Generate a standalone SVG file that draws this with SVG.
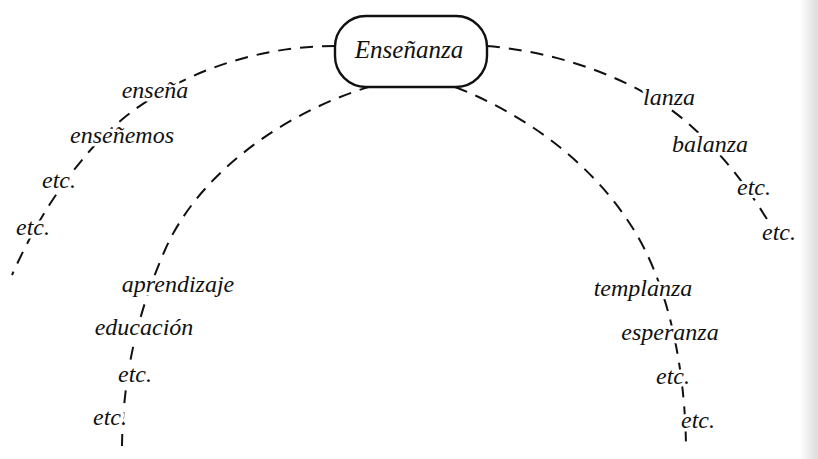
<svg xmlns="http://www.w3.org/2000/svg" width="818" height="459" viewBox="0 0 818 459">
  <style>
    .arc { fill: none; stroke: #111; stroke-width: 2; stroke-dasharray: 13 9; }
    .lbl { font-family: "Liberation Serif", "DejaVu Serif", serif; font-style: italic; font-size: 24px; fill: #111; text-anchor: middle; stroke: #fff; stroke-width: 7; paint-order: stroke; stroke-linejoin: round; }
    .main { font-family: "Liberation Serif", "DejaVu Serif", serif; font-style: italic; font-size: 25px; fill: #111; text-anchor: middle; }
    .box { fill: #fff; stroke: #111; stroke-width: 2.4; }
  </style>
  <defs>
    <linearGradient id="edge" x1="0" y1="0" x2="1" y2="0">
      <stop offset="0" stop-color="#ffffff"/>
      <stop offset="1" stop-color="#dcdcdc"/>
    </linearGradient>
  </defs>
  <rect width="818" height="459" fill="#fff"/>
  <rect x="800" y="0" width="18" height="459" fill="url(#edge)"/>

  <g id="connectors">
    <path class="arc" d="M335,46 C240,46 150,85 95,145 C55,189 30,235 12,275"/>
    <path class="arc" d="M487,46 C560,52 640,80 690,125 C730,161 752,195 770,224"/>
    <path class="arc" d="M372,86 C290,110 200,170 165,250 C140,307 123,370 122,446"/>
    <path class="arc" d="M455,87 C540,120 610,180 645,250 C670,300 685,370 686,446"/>
  </g>

  <g id="node-ensenanza">
    <rect class="box" x="335" y="16" width="152" height="71" rx="31" ry="31"/>
    <text class="main" x="409" y="58">Enseñanza</text>
  </g>

  <g id="node-ensena"><text class="lbl" x="155" y="98">enseña</text></g>
  <g id="node-ensenemos"><text class="lbl" x="122" y="143">enseñemos</text></g>
  <g id="node-etc-l1"><text class="lbl" x="59" y="188">etc.</text></g>
  <g id="node-etc-l2"><text class="lbl" x="33" y="235">etc.</text></g>

  <g id="node-lanza"><text class="lbl" x="669" y="105">lanza</text></g>
  <g id="node-balanza"><text class="lbl" x="710" y="152">balanza</text></g>
  <g id="node-etc-r1"><text class="lbl" x="754" y="195">etc.</text></g>
  <g id="node-etc-r2"><text class="lbl" x="779" y="240">etc.</text></g>

  <g id="node-aprendizaje"><text class="lbl" x="178" y="292">aprendizaje</text></g>
  <g id="node-educacion"><text class="lbl" x="144" y="335">educación</text></g>
  <g id="node-etc-il1"><text class="lbl" x="135" y="382">etc.</text></g>
  <g id="node-etc-il2"><text class="lbl" x="110" y="425">etc.</text></g>

  <g id="node-templanza"><text class="lbl" x="643" y="296">templanza</text></g>
  <g id="node-esperanza"><text class="lbl" x="670" y="340">esperanza</text></g>
  <g id="node-etc-ir1"><text class="lbl" x="673" y="384">etc.</text></g>
  <g id="node-etc-ir2"><text class="lbl" x="698" y="428">etc.</text></g>
</svg>
